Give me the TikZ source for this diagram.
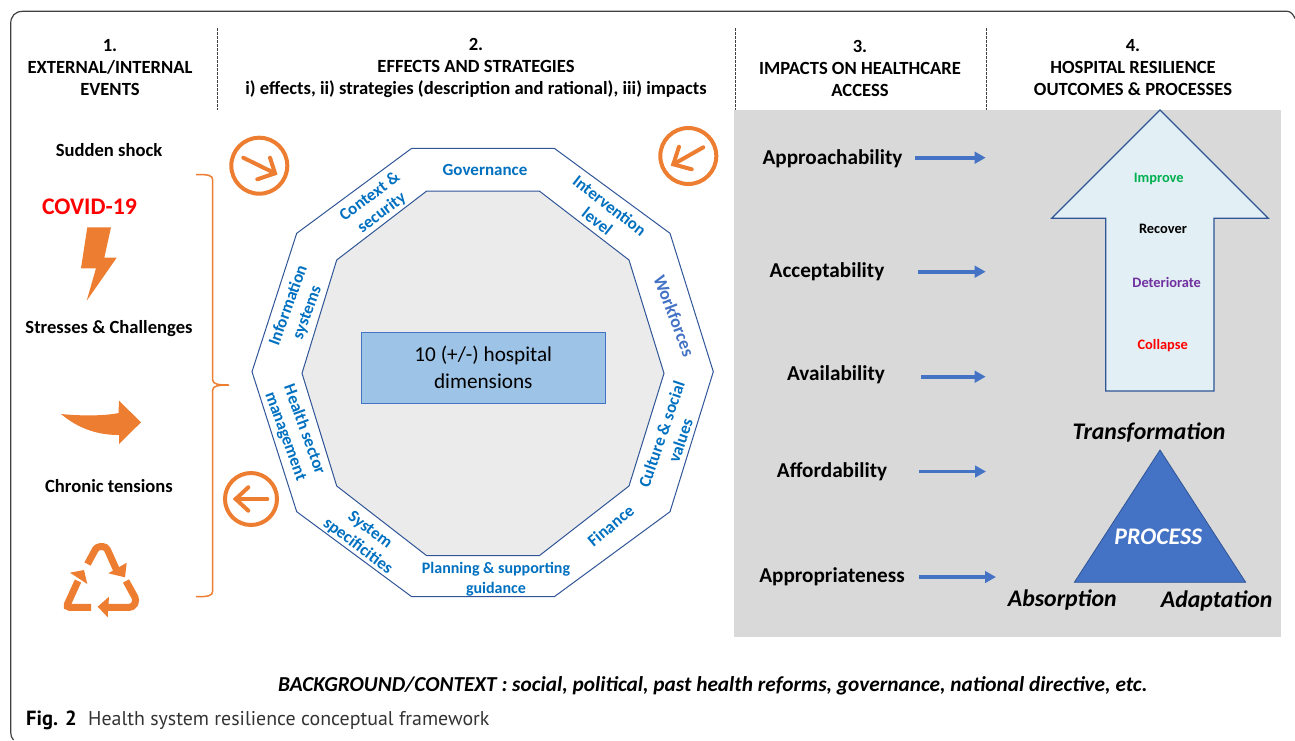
\documentclass[tikz,border=0pt]{standalone}
\usepackage{fontspec}
\setmainfont{Carlito}
\newfontfamily\capfont{PT Sans}
\usetikzlibrary{arrows.meta}
\definecolor{orng}{HTML}{ED7D31}
\definecolor{dimblue}{HTML}{0070C0}
\definecolor{wfblue}{HTML}{4472C4}
\definecolor{edge}{HTML}{2F5597}
\definecolor{greybg}{HTML}{D9D9D9}
\definecolor{innerg}{HTML}{EBEBEB}
\definecolor{boxblue}{HTML}{9DC3E6}
\definecolor{pale}{HTML}{E2EFF4}
\definecolor{okgreen}{HTML}{00B050}
\definecolor{purp}{HTML}{7030A0}
\tikzset{
  lbl/.style={inner sep=0pt,align=center,font=\fontsize{#1}{#1}\selectfont\bfseries},
  lbl/.default=18.6,
  head/.style={inner sep=0pt,align=center,font=\fontsize{18.6}{22}\selectfont\bfseries},
  dimlbl/.style={inner sep=0pt,align=center,text=dimblue,font=\fontsize{17}{20}\selectfont\bfseries},
  outlbl/.style={inner sep=0pt,font=\fontsize{14.4}{15}\selectfont\bfseries},
  ital/.style={inner sep=0pt,font=\fontsize{23.8}{24}\selectfont\bfseries\itshape},
  divider/.style={draw=black!75,line width=.7pt,dash pattern=on 3pt off 1pt},
  flow/.style={draw=wfblue,line width=3.6pt,-{Triangle[length=11pt,width=11.5pt]}},
  ring/.style={circle,draw=orng,line width=4pt,inner sep=0pt,minimum size=#1},
  icon/.style={draw=orng,line width=4pt,line cap=round,line join=miter},
  recyc/.style={draw=orng,line width=7pt,rounded corners=3.5pt},
}
\begin{document}
\begin{tikzpicture}[x=1pt,y=-1pt]
\useasboundingbox (0,0) rectangle (1295,740);
% frame (its bottom and right sides lie past the picture's edge) and background panel
\draw[black!75,line width=1.2pt] (13.5,740) .. controls (11.5,738) and (10.7,735.5) .. (10.7,732) -- (10.7,24) .. controls (10.7,16) and (15,11.3) .. (23,11.3) -- (1287,11.3) .. controls (1290.5,11.3) and (1293,14) .. (1295,18.5);
\fill[greybg] (734,110) rectangle (1281,637);
\draw[divider] (217,28) -- (217,110);
\draw[divider] (735,28) -- (735,110);
\draw[divider] (986,28) -- (986,110);
% headers
\node[head] (h1) at (110,68) {1.\\EXTERNAL/INTERNAL\\EVENTS};
\node[head] (h2) at (476,68) {2.\\EFFECTS AND STRATEGIES\\i) effects, ii) strategies (description and rational), iii) impacts};
\node[head] (h3) at (860,68) {3.\\IMPACTS ON HEALTHCARE\\ACCESS};
\node[head] (h4) at (1133,68) {4.\\HOSPITAL RESILIENCE\\OUTCOMES \& PROCESSES};
% column 1
\node[lbl] (shock) at (109,150) {Sudden shock};
\node[lbl=23.8,text=red] (covid) at (89.5,207) {COVID-19};
\node[lbl] (stress) at (109,328.5) {Stresses \& Challenges};
\node[lbl] (chronic) at (109,486) {Chronic tensions};
\fill[orng] (87.3,227.3) -- (111,227.3) -- (104.3,257.7) -- (116.7,257.7) -- (86.7,300.7) -- (96,268.3) -- (81,268.3) -- cycle;
\fill[orng] (61,414) .. controls (80,416) and (105,416) .. (118.5,413) -- (119,400.7) -- (141,422.3) -- (119,444) -- (119,435) .. controls (100,435) and (80,430) .. (61,414) -- cycle;
% recycling icon
\draw[recyc] (87.5,564) -- (97,546.5) -- (106,546.5) -- (117,571);
\fill[orng] (126.7,562.7) -- (125,577.3) -- (108.3,573.3) -- cycle;
\draw[recyc] (91,607.3) -- (66,607.3) -- (78,581);
\fill[orng] (70,572.7) -- (84,570) -- (87.3,584) -- cycle;
\draw[recyc] (126,581) -- (136.5,600) -- (133,607.3) -- (107,607.3);
\fill[orng] (109,596.7) -- (97.7,606.7) -- (107.7,617.3) -- cycle;
% brace
\draw[orng,line width=1.5pt] (196,174.5) .. controls (208,174.5) and (212.7,175) .. (212.7,180) -- (212.7,380) .. controls (212.7,384) and (218,385) .. (229,385) .. controls (218,385) and (212.7,386) .. (212.7,390) -- (212.7,591) .. controls (212.7,596) and (208,596.7) .. (196,596.7);
% rings with arrows
\node[ring=56pt] (r1) at (259.3,165.7) {};
\draw[icon] (243.3,157.7) -- (275,173.3);
\draw[icon] (270,157.7) -- (275,173.3) -- (257.3,179.3);
\node[ring=56pt] (r2) at (688.3,156) {};
\draw[icon] (703.3,147.3) -- (673.3,164.3);
\draw[icon] (679,146.7) -- (673.3,164.3) -- (691.7,169.3);
\node[ring=52pt] (r3) at (251,499) {};
\draw[icon] (267.3,499) -- (235.7,499);
\draw[icon] (248.3,487.3) -- (235.7,499) -- (248.3,510.7);
% decagons
\draw[edge,line width=1pt] (411.7,148.3) -- (554.3,148.3) -- (670,233.3) -- (713.3,371.7) -- (670,511.7) -- (554.3,596.7) -- (411.7,596.7) -- (296.7,511.7) -- (252,371.7) -- (296.7,233.3) -- cycle;
\draw[edge,line width=1pt,fill=innerg] (426.7,191) -- (539.3,191) -- (629,260) -- (664,373.3) -- (629,486) -- (539.3,555.7) -- (426.7,555.7) -- (336.7,486) -- (302,373.3) -- (336.7,260) -- cycle;
\node[draw=wfblue,line width=.8pt,fill=boxblue,minimum width=244.7pt,minimum height=71pt,inner sep=0pt,align=center,font=\fontsize{21.2}{27}\selectfont] (box) at (483.3,367.8) {10 (+/-) hospital\\dimensions};
% dimensions
\node[dimlbl] (gov) at (485,170) {Governance};
\node[dimlbl,rotate=37] (ctx) at (376,205) {Context \&\\security};
\node[dimlbl,rotate=-38] (int) at (603.5,213.5) {Intervention\\level};
\node[dimlbl,rotate=-69,text=wfblue,font=\fontsize{18}{20}\selectfont\bfseries] (wf) at (674.3,315.7) {Workforces};
\node[dimlbl,rotate=70] (info) at (298,309) {Information\\systems};
\node[dimlbl,rotate=71] (cult) at (671,437.5) {Culture \& social\\values};
\node[dimlbl,rotate=40] (fin) at (610.7,525.7) {Finance};
\node[dimlbl,font=\fontsize{16}{20}\selectfont\bfseries] (plan) at (496,579) {Planning \& supporting\\guidance};
\node[dimlbl,rotate=-37] (sys) at (363.7,538.3) {System\\specificities};
\node[dimlbl,rotate=-70] (hsm) at (294.7,433) {Health sector\\management};
% column 3
\node[lbl=21.2] (a1) at (832.5,158.5) {Approachability};
\node[lbl=21.2] (a2) at (827,272) {Acceptability};
\node[lbl=21.2] (a3) at (836,374.5) {Availability};
\node[lbl=21.2] (a4) at (832,471.5) {Affordability};
\node[lbl=21.2] (a5) at (832,576.5) {Appropriateness};
\coordinate (s1) at (915,157.7); \coordinate (e1) at (985.7,157.7);
\coordinate (s2) at (917.7,271.7); \coordinate (e2) at (985.7,271.7);
\coordinate (s3) at (921,376.7); \coordinate (e3) at (985.7,376.7);
\coordinate (s4) at (919,471.5); \coordinate (e4) at (986,471.5);
\coordinate (s5) at (919,577); \coordinate (e5) at (996,577);
\draw[flow] (s1) -- (e1);
\draw[flow] (s2) -- (e2);
\draw[flow] (s3) -- (e3);
\draw[flow] (s4) -- (e4);
\draw[flow] (s5) -- (e5);
% outcomes arrow
\draw[edge,line width=1.2pt,fill=pale,line join=miter] (1160,110) -- (1268.3,218.3) -- (1214,218.3) -- (1214,391) -- (1105.7,391) -- (1105.7,218.3) -- (1051.7,218.3) -- cycle;
\node[outlbl,text=okgreen] (o1) at (1158.7,178.5) {Improve};
\node[outlbl] (o2) at (1163,229) {Recover};
\node[outlbl,text=purp] (o3) at (1166.7,282) {Deteriorate};
\node[outlbl,text=red] (o4) at (1162.7,345.5) {Collapse};
% process triangle
\draw[edge,line width=.8pt,fill=wfblue] (1160,450) -- (1245.7,582.3) -- (1074.3,582.3) -- cycle;
\node[ital,text=white] (p) at (1158.3,537) {PROCESS};
\node[ital] (p1) at (1149,432.7) {Transformation};
\node[ital] (p2) at (1062.3,600) {Absorption};
\node[ital] (p3) at (1216.7,601) {Adaptation};
% bottom
\node[inner sep=0pt,anchor=west,font=\fontsize{21.3}{24}\selectfont\bfseries\itshape] (bg) at (278,686) {BACKGROUND/CONTEXT : social, political, past health reforms, governance, national directive, etc.};
\node[inner sep=0pt,anchor=west,font=\capfont\fontsize{20.5}{22}\selectfont\bfseries] (fig) at (26,720) {Fig. 2};
\node[inner sep=0pt,anchor=west,text=black!80,font=\capfont\fontsize{19.9}{22}\selectfont] (cap) at (88,720) {Health system resilience conceptual framework};
\end{tikzpicture}
\end{document}
